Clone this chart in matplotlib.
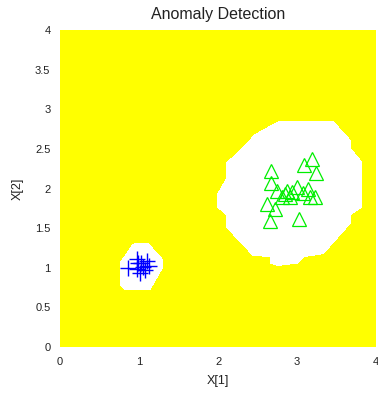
import numpy as np
import matplotlib
matplotlib.use("Agg")
import matplotlib.pyplot as plt

plt.rcParams["font.family"] = ["Liberation Sans", "DejaVu Sans"]

# normal region outlines
big_x = [2.76, 3.46, 3.67, 3.67, 3.82, 3.82, 3.67, 3.67, 3.33, 3.08, 3.00, 2.76,
         2.66, 2.66, 2.44, 2.11, 2.11, 1.99, 1.99, 2.11, 2.11, 2.22, 2.47]
big_y = [2.84, 2.84, 2.61, 2.51, 2.33, 1.77, 1.67, 1.56, 1.18, 1.14, 1.06, 1.03,
         1.06, 1.14, 1.16, 1.51, 1.67, 1.77, 1.92, 2.13, 2.33, 2.42, 2.68]
small_x = [0.95, 1.11, 1.30, 1.30, 1.14, 0.82, 0.76, 0.76, 0.92]
small_y = [1.31, 1.31, 1.10, 1.01, 0.73, 0.73, 0.78, 1.06, 1.29]

# class 1 samples (blue +)
c1_x = [0.97, 0.86, 1.03, 1.08, 1.01, 1.10, 0.97, 1.05, 0.99, 1.12]
c1_y = [0.99, 1.00, 1.06, 0.97, 0.93, 1.08, 1.11, 1.01, 1.06, 1.02]

# class 2 samples (green triangles)
c2_x = [3.19, 3.09, 3.24, 2.67, 2.67, 2.74, 2.87, 2.93, 2.91, 2.81,
        3.08, 3.14, 3.16, 3.23, 2.62, 2.72, 2.66, 3.02, 3.00, 2.85]
c2_y = [2.37, 2.30, 2.19, 2.22, 2.07, 1.97, 1.97, 1.96, 1.89, 1.89,
        1.94, 2.00, 1.89, 1.89, 1.80, 1.74, 1.59, 1.62, 2.02, 1.93]

xticks = [0, 1, 2, 3, 4]
yticks = [0, 0.5, 1, 1.5, 2, 2.5, 3, 3.5, 4]
ytick_labels = ["0", "0.5", "1", "1.5", "2", "2.5", "3", "3.5", "4"]

fig = plt.figure(figsize=(3.78, 3.94), dpi=100)
ax = fig.add_axes([0.159, 0.119, 0.836, 0.805])
ax.set_facecolor("#ffff00")

ax.fill(big_x, big_y, color="white", lw=0, antialiased=False)
ax.fill(small_x, small_y, color="white", lw=0, antialiased=False)

ax.plot(c1_x, c1_y, "+", color="#0000ff", ms=12, mew=1.0)
ax.plot(c2_x, c2_y, "^", color="#00ee00", mfc="none", ms=10, mew=0.9)

ax.set_xlim(0, 4)
ax.set_ylim(0, 4)
ax.set_xticks(xticks)
ax.set_yticks(yticks)
ax.set_yticklabels(ytick_labels)
ax.tick_params(length=0, labelsize=8, colors="#222222", pad=7)
for s in ax.spines.values():
    s.set_visible(False)

ax.set_xlabel("X[1]", fontsize=9, color="#222222", labelpad=6)
ax.set_ylabel("X[2]", fontsize=9, color="#222222", labelpad=8)
ax.set_title("Anomaly Detection", fontsize=11.5, color="#222222", pad=8)

fig.savefig("out.png", dpi=100)
